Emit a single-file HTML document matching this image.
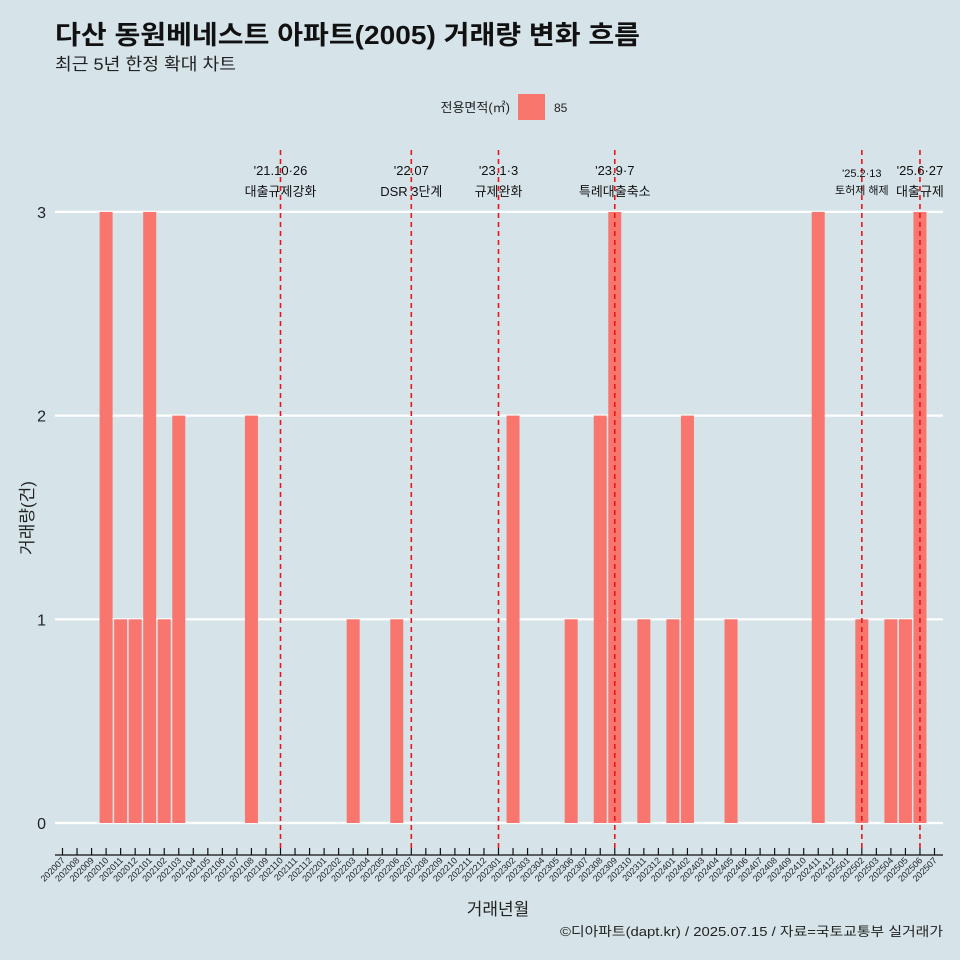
<!DOCTYPE html>
<html><head><meta charset="utf-8"><style>
body{margin:0;background:#d6e4ea;}
svg{display:block;font-family:"Liberation Sans","Noto Sans CJK KR",sans-serif;}
</style></head><body>
<svg id="chart" width="960" height="960" viewBox="0 0 960 960">
<rect width="960" height="960" fill="#d6e4ea"/>
<text x="55" y="44" font-size="26" font-weight="bold" fill="#111" textLength="585" lengthAdjust="spacingAndGlyphs">다산 동원베네스트 아파트(2005) 거래량 변화 흐름</text>
<text x="55" y="70" font-size="17" fill="#222" textLength="181" lengthAdjust="spacingAndGlyphs">최근 5년 한정 확대 차트</text>
<g>
<text x="510" y="112" font-size="13" text-anchor="end" fill="#222">전용면적(㎡)</text>
<rect x="518" y="94" width="27" height="26" fill="#F8766D"/>
<text x="554" y="112" font-size="12" fill="#222">85</text>
</g>
<defs><clipPath id="pc"><rect x="55" y="140" width="888" height="710"/></clipPath></defs>
<g id="grid"></g>
<g id="bars"></g>
<g id="events" clip-path="url(#pc)"></g>
<g id="xaxis"></g>
<text x="498" y="915" font-size="17" text-anchor="middle" fill="#222">거래년월</text>
<text transform="translate(33,518) rotate(-90)" font-size="17" text-anchor="middle" fill="#222">거래량(건)</text>
<text x="943" y="936" font-size="13" text-anchor="end" fill="#222" textLength="383" lengthAdjust="spacingAndGlyphs">©디아파트(dapt.kr) / 2025.07.15 / 자료=국토교통부 실거래가</text>
</svg>
<script>
const categories=[];for(let y=2020;y<=2025;y++)for(let m=1;m<=12;m++){const c=y*100+m;if(c>=202007&&c<=202507)categories.push(String(c));}
const saleMonths=["202010","202011","202012","202101","202102","202103","202108","202203","202206","202302","202306","202308","202309","202311","202401","202402","202405","202411","202502","202504","202505","202506"];
const saleCounts=[3,1,1,3,1,2,2,1,1,2,1,2,3,1,1,2,1,3,1,1,1,3];
const yTicks=[0,1,2,3];
const eventMonths=["202110","202207","202301","202309","202502","202506"];
const eventDates=["'21.10·26","'22.07","'23.1·3","'23.9·7","'25.2·13","'25.6·27"];
const eventNames=["대출규제강화","DSR 3단계","규제완화","특례대출축소","토허제 해제","대출규제"];
const NS="http://www.w3.org/2000/svg";
const x0=62.5,step=(934.5-62.5)/60;
function xs(c){return x0+categories.indexOf(c)*step;}
function ys(v){return 823-v*203.7;}
function mk(t,a,p){const e=document.createElementNS(NS,t);for(const k in a)e.setAttribute(k,a[k]);document.getElementById(p).appendChild(e);return e;}
yTicks.forEach(v=>{
 const l=mk('line',{x1:55,x2:943,y1:ys(v),y2:ys(v),stroke:'#fff','stroke-width':2.2},'grid');
 
 
 const t=mk('text',{x:46,y:ys(v)+6,'font-size':16,'text-anchor':'end',fill:'#222'},'grid');t.textContent=v;
 
 
});
saleMonths.forEach((c,i)=>{
 const b=mk('rect',{x:xs(c)-6.5,y:ys(saleCounts[i]),width:13,height:ys(0)-ys(saleCounts[i]),fill:'#F8766D'},'bars');
 
 
});
eventMonths.forEach((c,i)=>{
 const x=xs(c);
 const l=mk('line',{x1:x,x2:x,y1:150,y2:850,stroke:'#e8151b','stroke-width':1.6,'stroke-dasharray':'5,4'},'events');
 
 
 const small=c==="202502";
 const d=mk('text',{x:x,y:small?177:175,'font-size':small?11:13,'text-anchor':'middle',fill:'#111'},'events');d.textContent=eventDates[i];
 
 
 const n=mk('text',{x:x,y:small?194:196,'font-size':small?11:13,'text-anchor':'middle',fill:'#111'},'events');n.textContent=eventNames[i];
 
 
});
const ax=mk('line',{x1:55,x2:943,y1:855,y2:855,stroke:'#111','stroke-width':1.2},'xaxis');


categories.forEach(c=>{
 const x=xs(c);
 const t=mk('line',{x1:x,x2:x,y1:848,y2:855,stroke:'#111','stroke-width':1.2},'xaxis');
 
 
 const l=mk('text',{transform:`translate(${x+3},${861}) rotate(-45)`,'font-size':9,'text-anchor':'end',fill:'#222'},'xaxis');l.textContent=c;
 
 
});
</script>
</body></html>
